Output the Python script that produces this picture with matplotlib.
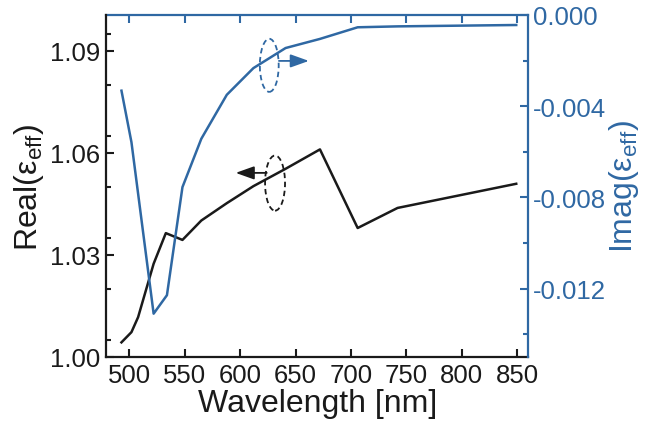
import matplotlib
matplotlib.use('Agg')
import matplotlib.pyplot as plt
from matplotlib.patches import Ellipse
from matplotlib.ticker import MultipleLocator

plt.rcParams['font.family'] = ['Liberation Sans', 'DejaVu Sans']
plt.rcParams['mathtext.default'] = 'regular'

blue = '#2f68a3'

# wavelengths (nm) and effective permittivity
wl_real = [493, 502, 508, 522, 533, 548, 565, 588, 612, 641, 672, 706, 742, 849]
eps_real = [1.0043, 1.0073, 1.0117, 1.0274, 1.0364, 1.0344, 1.0401, 1.0452, 1.0502, 1.0553, 1.0610, 1.0379, 1.0438, 1.0509]

wl_imag = [493, 502, 522, 534, 548, 565, 588, 612, 641, 672, 706, 742, 849]
eps_imag = [-0.00332, -0.00558, -0.01310, -0.01229, -0.00755, -0.00543, -0.00350,
            -0.00233, -0.00145, -0.00105, -0.00054, -0.00050, -0.00044]

fig = plt.figure(figsize=(6.46, 4.27), dpi=100)
ax = fig.add_axes([0.164, 0.1616, 0.654, 0.801])
ax2 = ax.twinx()

ax.plot(wl_real, eps_real, color='#1a1a1a', lw=1.8, zorder=3)
ax2.plot(wl_imag, eps_imag, color=blue, lw=1.8)

ax.set_xlim(479, 860)
ax.set_ylim(1.0, 1.1005)
ax2.set_ylim(-0.015, 0.0)

ax.set_xticks([500, 550, 600, 650, 700, 750, 800, 850])
ax.set_yticks([1.00, 1.03, 1.06, 1.09])
ax.set_yticklabels(['1.00', '1.03', '1.06', '1.09'])
ax.yaxis.set_minor_locator(MultipleLocator(0.015))
ax2.set_yticks([0.0, -0.004, -0.008, -0.012])
ax2.set_yticklabels(['0.000', '-0.004', '-0.008', '-0.012'])
ax2.yaxis.set_minor_locator(MultipleLocator(0.002))

ax.tick_params(axis='both', which='major', direction='in', length=6, width=1.5,
               labelsize=18.5, color='#1a1a1a', labelcolor='#1a1a1a', pad=4)
ax.tick_params(axis='y', which='minor', direction='in', length=3.5, width=1.5, color='#1a1a1a')
ax2.tick_params(axis='y', which='major', direction='in', length=6, width=1.5,
                labelsize=18.5, color=blue, labelcolor=blue, pad=3)
ax2.tick_params(axis='y', which='minor', direction='in', length=3.5, width=1.5, color=blue)

top = ax.secondary_xaxis('top')
top.set_xticks([500, 550, 600, 650, 700, 750, 800, 850])
top.tick_params(direction='in', length=6, width=1.5, color=blue, labeltop=False)
top.spines['top'].set_color(blue)
top.spines['top'].set_linewidth(1.6)

for s in ['left', 'bottom']:
    ax.spines[s].set_linewidth(1.6)
    ax.spines[s].set_color('#1a1a1a')
ax.spines['top'].set_visible(False)
ax.spines['right'].set_visible(False)
ax2.spines['left'].set_visible(False)
ax2.spines['bottom'].set_visible(False)
ax2.spines['top'].set_visible(False)
ax2.spines['right'].set_color(blue)
ax2.spines['right'].set_linewidth(1.6)

ax.set_xlabel('Wavelength [nm]', fontsize=23, color='#1a1a1a', labelpad=1)
ax.set_ylabel('Real(ε$_{eff}$)', fontsize=23, color='#1a1a1a', labelpad=3)
ax2.set_ylabel('Imag(ε$_{eff}$)', fontsize=23, color=blue, labelpad=1)

# dashed ellipses with arrows marking which axis each curve belongs to
ax.add_patch(Ellipse((626.3, 1.0857), 17, 0.0156, fill=False, ls=(0, (3, 2)),
                     lw=1.3, ec=blue, zorder=4))
ax.annotate('', xy=(662, 1.0870), xytext=(635, 1.0870),
            arrowprops=dict(arrowstyle='-|>,head_length=0.7,head_width=0.25', color=blue,
                            lw=1.3, mutation_scale=16, shrinkA=0, shrinkB=0))
ax.add_patch(Ellipse((631.5, 1.0511), 18, 0.0162, fill=False, ls=(0, (3, 2)),
                     lw=1.3, ec='#1a1a1a', zorder=4))
ax.annotate('', xy=(596, 1.0541), xytext=(624, 1.0541),
            arrowprops=dict(arrowstyle='-|>,head_length=0.7,head_width=0.25', color='#1a1a1a',
                            lw=1.3, mutation_scale=16, shrinkA=0, shrinkB=0))

fig.savefig('out.png', dpi=100)
